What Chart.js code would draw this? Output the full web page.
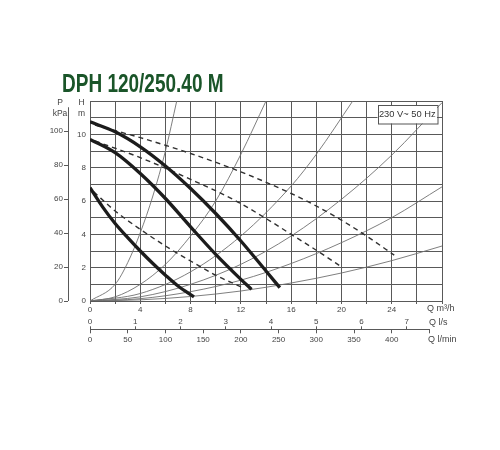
<!DOCTYPE html>
<html>
<head>
<meta charset="utf-8">
<script src="https://cdn.jsdelivr.net/npm/chart.js@4.4.1/dist/chart.umd.min.js"></script>
<style>
  html, body { margin: 0; padding: 0; background: #fff; }
  canvas { display: block; }
</style>
</head>
<body>
<canvas id="chart" width="500" height="450"></canvas>
<script>
const TITLE = 'DPH 120/250.40 M';
const SUPPLY = '230 V~ 50 Hz';

// pump curves, [Q m3/h, H m]
const speedHigh = [[0, 10.75], [2, 10.15], [4, 9.25], [6, 8.1], [8, 6.75], [10, 5.25], [12, 3.6], [14, 1.8], [15.1, 0.8]];
const speedMid = [[0, 9.7], [2, 8.9], [4, 7.65], [6, 6.15], [8, 4.45], [10, 2.8], [12, 1.3], [12.85, 0.7]];
const speedLow = [[0, 6.8], [1, 5.65], [2, 4.65], [3, 3.8], [4, 3.0], [5, 2.25], [6, 1.55], [7, 0.9], [8.27, 0.25]];

// twin-head (parallel) curves, dashed
const twinHigh = [[0.4, 10.55], [4, 9.8], [8, 8.85], [12, 7.75], [16, 6.45], [18, 5.7], [20, 4.85], [22, 3.9], [24.2, 2.75]];
const twinMid = [[0.4, 9.6], [4, 8.6], [8, 7.3], [11.5, 6.05], [14, 4.95], [16, 4.0], [18.3, 2.9], [20.1, 2.0]];
const twinLow = [[0.3, 6.55], [2, 5.4], [4, 4.3], [6, 3.3], [8, 2.4], [10, 1.55], [12.3, 0.75]];

// system resistance curves
const system1 = [[0, 0], [2, 1.0], [3, 2.3], [4, 4.1], [5, 6.3], [6, 9.0], [6.9, 12]];
const system2 = [[0, 0], [2, 0.25], [4, 1.0], [6, 2.2], [8, 3.9], [10, 6.0], [12, 8.8], [14, 12]];
const system3 = [[0, 0], [4, 0.45], [8, 1.75], [12, 3.9], [16, 6.9], [18, 8.8], [20.9, 12]];
const system4 = [[0, 0], [4, 0.25], [8, 1.0], [12, 2.2], [16, 3.9], [20, 6.1], [24, 8.75], [28, 11.9]];
const system5 = [[0, 0], [4, 0.14], [8, 0.56], [12, 1.25], [16, 2.25], [20, 3.5], [24, 5.0], [28, 6.85]];
const system6 = [[0, 0], [4, 0.07], [8, 0.27], [12, 0.6], [16, 1.08], [20, 1.68], [24, 2.42], [28, 3.3]];

const flowTicks = [0, 2, 4, 6, 8, 10, 12, 14, 16, 18, 20, 22, 24, 26, 28];
const flowTicksLs = [0, 1, 2, 3, 4, 5, 6, 7];
const flowTicksLmin = [0, 50, 100, 150, 200, 250, 300, 350, 400, 450];
const headTicks = [0, 1, 2, 3, 4, 5, 6, 7, 8, 9, 10, 11, 12];
const pressureTicks = [0, 20, 40, 60, 80, 100];

const FLOW_MAX = 28;
const HEAD_MAX = 12;
const KPA_PER_M = 9.80665;

const GRID = '#595959';
const TEXT = '#444';

Chart.defaults.font.family = '"Liberation Sans", Arial, sans-serif';
Chart.defaults.font.size = 8;
Chart.defaults.color = TEXT;

const toPoints = (pairs) => pairs.map(([x, y]) => ({ x, y }));
const setTicks = (values) => (scale) => {
  scale.ticks = values.map((value) => ({ value }));
};
const fixSize = (size) => (scale) => {
  if (scale.isHorizontal()) {
    scale.height = size;
  } else {
    scale.width = size;
  }
};

const thick = (pairs) => ({
  data: toPoints(pairs),
  borderColor: '#1c1c1c',
  borderWidth: 3.3,
  order: 1,
});
const dashed = (pairs) => ({
  data: toPoints(pairs),
  borderColor: '#303030',
  borderWidth: 1.4,
  borderDash: [5, 4],
  order: 2,
});
const thin = (pairs) => ({
  data: toPoints(pairs),
  borderColor: '#707070',
  borderWidth: 0.9,
  order: 3,
});

const decorations = {
  id: 'decorations',
  afterDraw(chart) {
    const { ctx, chartArea, scales } = chart;
    ctx.save();

    // title
    ctx.save();
    ctx.translate(62, 91.5);
    ctx.scale(0.76, 1);
    ctx.font = 'bold 25px "Liberation Sans", Arial, sans-serif';
    ctx.fillStyle = '#1a5529';
    ctx.textBaseline = 'alphabetic';
    ctx.fillText(TITLE, 0, 0);
    ctx.restore();

    ctx.strokeStyle = GRID;
    ctx.lineWidth = 1;

    // kPa axis line
    const kx = Math.round(scales.kpa.right) + 0.5;
    ctx.beginPath();
    ctx.moveTo(kx, scales.kpa.getPixelForValue(0));
    ctx.lineTo(kx, scales.kpa.getPixelForValue(114));
    ctx.stroke();

    // l/s - l/min axis line
    const ly = Math.round(scales.lmin.top) + 0.5;
    ctx.beginPath();
    ctx.moveTo(scales.lmin.getPixelForValue(0), ly);
    ctx.lineTo(scales.lmin.getPixelForValue(450), ly);
    ctx.stroke();

    // axis names
    ctx.fillStyle = TEXT;
    ctx.font = '8.5px "Liberation Sans", Arial, sans-serif';
    ctx.textAlign = 'center';
    ctx.textBaseline = 'middle';
    ctx.fillText('P', 60, 103);
    ctx.fillText('kPa', 60, 114);
    ctx.fillText('H', 81.5, 103);
    ctx.fillText('m', 81.5, 113.5);

    ctx.font = '9px "Liberation Sans", Arial, sans-serif';
    ctx.textAlign = 'left';
    ctx.fillText('Q m\u00b3/h', 427, 309);
    ctx.fillText('Q l/s', 429, 323);
    ctx.fillText('Q l/min', 428, 340);

    // supply box
    const bw = 59.5;
    const bh = 18.5;
    const bx = chartArea.right - 5 - bw;
    const by = chartArea.top + 4;
    ctx.fillStyle = '#fff';
    ctx.fillRect(bx, by, bw, bh);
    ctx.strokeStyle = '#555';
    ctx.strokeRect(Math.round(bx) + 0.5, Math.round(by) + 0.5, bw, bh);
    ctx.fillStyle = '#333';
    ctx.font = '9.3px "Liberation Sans", Arial, sans-serif';
    ctx.textAlign = 'center';
    ctx.fillText(SUPPLY, bx + bw / 2, by + bh / 2 + 0.5);

    ctx.restore();
  },
};

new Chart(document.getElementById('chart'), {
  type: 'scatter',
  data: {
    datasets: [
      thick(speedHigh), thick(speedMid), thick(speedLow),
      dashed(twinHigh), dashed(twinMid), dashed(twinLow),
      thin(system1), thin(system2), thin(system3),
      thin(system4), thin(system5), thin(system6),
    ],
  },
  options: {
    responsive: false,
    animation: false,
    showLine: true,
    layout: {
      padding: { left: 40, top: 101, right: 58, bottom: 100.7 },
    },
    elements: {
      point: { radius: 0, hoverRadius: 0 },
      line: { fill: false, cubicInterpolationMode: 'monotone' },
    },
    plugins: {
      legend: { display: false },
      tooltip: { enabled: false },
      title: { display: false },
    },
    scales: {
      x: {
        type: 'linear',
        position: 'bottom',
        weight: 0,
        min: 0,
        max: FLOW_MAX,
        afterBuildTicks: setTicks(flowTicks),
        afterFit: fixSize(28.3),
        grid: { color: GRID, tickColor: GRID, tickLength: 3 },
        border: { color: GRID },
        ticks: {
          autoSkip: false,
          maxRotation: 0,
          padding: 0.5,
          callback: (v) => (v % 4 === 0 && v < FLOW_MAX ? String(v) : ''),
        },
      },
      ls: {
        type: 'linear',
        position: 'bottom',
        weight: 1,
        min: 0,
        max: FLOW_MAX / 3.6,
        afterBuildTicks: setTicks(flowTicksLs),
        afterFit: fixSize(0),
        grid: { drawOnChartArea: false, tickColor: GRID, tickLength: -3 },
        border: { display: false },
        ticks: { autoSkip: false, maxRotation: 0, mirror: true, padding: 2.5 },
      },
      lmin: {
        type: 'linear',
        position: 'bottom',
        weight: 2,
        min: 0,
        max: FLOW_MAX * 1000 / 60,
        afterBuildTicks: setTicks(flowTicksLmin),
        afterFit: fixSize(20),
        grid: { drawOnChartArea: false, tickColor: GRID, tickLength: 4 },
        border: { display: false },
        ticks: {
          autoSkip: false,
          maxRotation: 0,
          padding: 2,
          callback: (v) => (v < 450 ? String(v) : ''),
        },
      },
      y: {
        type: 'linear',
        position: 'left',
        weight: 0,
        min: 0,
        max: HEAD_MAX,
        afterBuildTicks: setTicks(headTicks),
        afterFit: fixSize(22),
        grid: { color: GRID, drawTicks: false },
        border: { color: GRID },
        ticks: {
          autoSkip: false,
          padding: 4,
          callback: (v) => (v % 2 === 0 && v < HEAD_MAX ? String(v) : ''),
        },
      },
      kpa: {
        type: 'linear',
        position: 'left',
        weight: 1,
        min: 0,
        max: HEAD_MAX * KPA_PER_M,
        afterBuildTicks: setTicks(pressureTicks),
        afterFit: fixSize(28),
        grid: { drawOnChartArea: false, tickColor: GRID, tickLength: 4 },
        border: { display: false },
        ticks: { autoSkip: false, padding: 1 },
      },
    },
  },
  plugins: [decorations],
});
</script>
</body>
</html>
